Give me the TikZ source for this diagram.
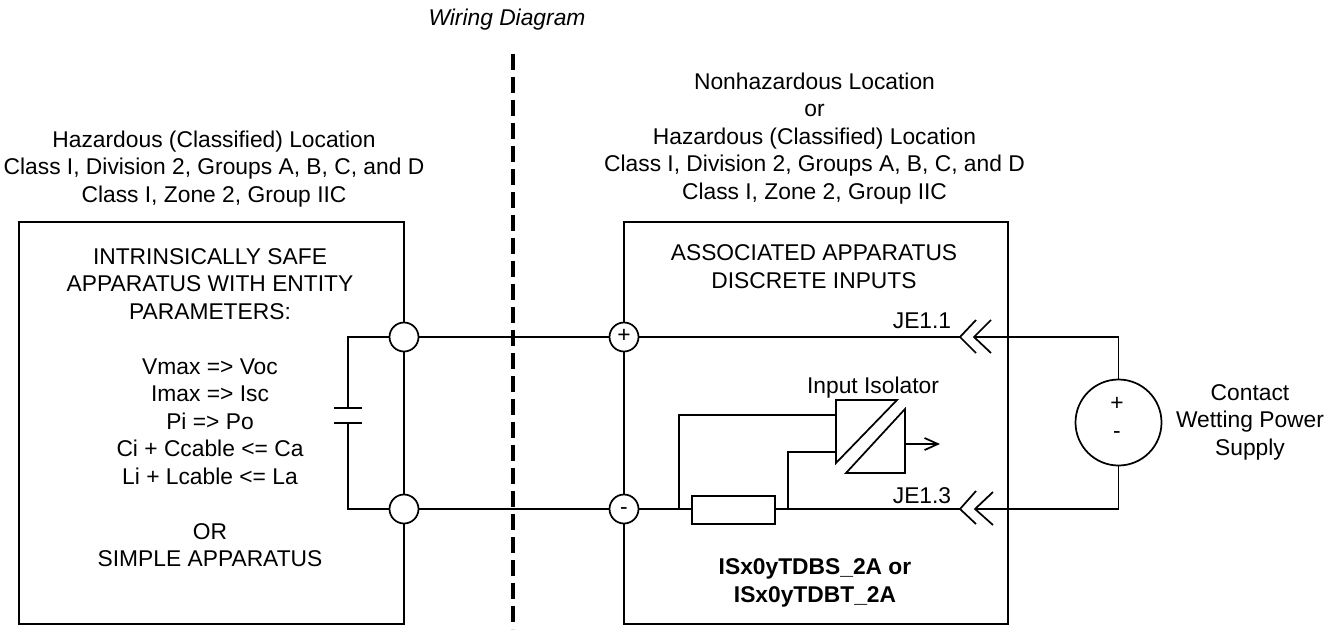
\documentclass[tikz,border=0pt]{standalone}
\usepackage{fontspec}
\setmainfont{Liberation Sans}
\usetikzlibrary{arrows.meta}
\newlength{\du}
\setlength{\du}{0.75pt}
\tikzset{
  wire/.style={line width=1.3pt,line join=miter},
  box/.style={draw,line width=1.3pt,rectangle,inner sep=0pt},
  term/.style={draw,fill=white,line width=1.3pt,circle,inner sep=0pt,minimum size=29\du},
  txt/.style={inner sep=0pt,anchor=base,align=center,font=\fontsize{17.1pt}{20.6pt}\selectfont},
}

\begin{document}
\begin{tikzpicture}
\pgftransformxscale{1.000000}
\pgftransformyscale{-1.000000}
\useasboundingbox (0\du,0\du) rectangle (1341\du,629\du);
% barrier
\draw[line width=2.4pt,dash pattern=on 16\du off 7\du] (513\du,54\du)--(513\du,629\du);
% boxes
\node[box,minimum width=385\du,minimum height=402\du] (hazbox) at (211.5\du,423\du){};
\node[box,minimum width=384\du,minimum height=402\du] (assocbox) at (816\du,423\du){};
% terminals
\node[term] (hazplus) at (404\du,337\du){};
\node[term] (hazminus) at (404\du,509\du){};
\node[term] (assocplus) at (624\du,337\du){};
\node[term] (assocminus) at (624\du,509\du){};
\node[txt] (plussign) at (624\du,342.5\du){+};
\node[txt] (minussign) at (624\du,514\du){-};
% capacitor
\coordinate (capnw) at (348\du,337\du);
\coordinate (capsw) at (348\du,509\du);
\coordinate (plateup) at (348\du,408\du);
\coordinate (platedn) at (348\du,423\du);
\draw[wire] (hazplus)--(capnw)--(plateup);
\draw[wire] (hazminus)--(capsw)--(platedn);
\draw[wire] (334\du,408\du)--(362\du,408\du);
\draw[wire] (334\du,423\du)--(362\du,423\du);
% field wiring
\draw[wire] (hazplus)--(assocplus);
\draw[wire] (hazminus)--(assocminus);
% connectors
\coordinate (jeonea) at (960\du,337\du);
\coordinate (jeoneb) at (974\du,337\du);
\coordinate (jethreea) at (960\du,509\du);
\coordinate (jethreeb) at (975\du,509\du);
\draw[wire] (assocplus)--(jeonea);
\draw[wire] (jeonea)++(16\du,-17\du)--(jeonea)--++(16\du,16\du);
\draw[wire] (jeoneb)++(17\du,-17\du)--(jeoneb)--++(17\du,16\du);
\draw[wire] (jethreea)++(16\du,-18\du)--(jethreea)--++(16\du,15\du);
\draw[wire] (jethreeb)++(18\du,-17\du)--(jethreeb)--++(18\du,16\du);
% sense resistor
\node[box,fill=white,minimum width=83\du,minimum height=28\du] (sense) at (733.5\du,510\du){};
\coordinate (tapa) at (679\du,509\du);
\coordinate (tapb) at (788\du,509\du);
\draw[wire] (assocminus)--(sense.west |- tapa);
\draw[wire] (sense.east |- tapb)--(jethreea);
% isolator
\draw[wire] (836\du,400\du)--(897\du,400\du)--(836\du,463\du)--cycle;
\draw[wire] (905\du,409\du)--(905\du,473\du)--(846\du,473\du)--cycle;
\coordinate (isoa) at (836\du,415\du);
\coordinate (isob) at (836\du,452\du);
\coordinate (isoout) at (905\du,444\du);
\coordinate (isoend) at (940\du,444\du);
\draw[wire] (tapa)--(tapa |- isoa)--(isoa);
\draw[wire] (tapb)--(tapb |- isob)--(isob);
\draw[wire,-{Straight Barb[length=10pt,width=9pt]}] (isoout)--(isoend);
% power supply
\node[draw,fill=white,line width=1.3pt,circle,inner sep=0pt,minimum size=86\du] (supply) at (1118.5\du,422.5\du){};
\coordinate (supnw) at (1118.5\du,337\du);
\coordinate (supsw) at (1118.5\du,509\du);
\draw[wire] (jeoneb)--(supnw)--(supply);
\draw[wire] (jethreeb)--(supsw)--(supply);
\node[txt] (supplus) at (1117\du,410.5\du){+};
\node[txt] (supminus) at (1117\du,438\du){-};
% text
\node[txt] (title) at (507\du,25.5\du){\itshape Wiring Diagram};
\node[txt] (hazloc) at (214\du,202\du){Hazardous (Classified) Location\\Class I, Division 2, Groups A, B, C, and D\\Class I, Zone 2, Group IIC};
\node[txt] (safeloc) at (814.5\du,199\du){Nonhazardous Location\\or\\Hazardous (Classified) Location\\Class I, Division 2, Groups A, B, C, and D\\Class I, Zone 2, Group IIC};
\node[txt] (hazlabel) at (210\du,566.5\du){INTRINSICALLY SAFE\\APPARATUS WITH ENTITY\\PARAMETERS:\\ \\Vmax => Voc\\Imax => Isc\\Pi => Po\\Ci + Ccable <= Ca\\Li + Lcable <= La\\ \\OR\\SIMPLE APPARATUS};
\node[txt] (assoclabel) at (814\du,288\du){ASSOCIATED APPARATUS\\DISCRETE INPUTS};
\node[txt] (jeone) at (922\du,328\du){JE1.1};
\node[txt] (jethree) at (922\du,503\du){JE1.3};
\node[txt] (isolabel) at (873\du,393\du){Input Isolator};
\node[txt] (suplabel) at (1250\du,455\du){Contact\\Wetting Power\\Supply};
\node[txt] (partno) at (815\du,602\du){\bfseries ISx0yTDBS\_2A or\\\bfseries ISx0yTDBT\_2A};
\end{tikzpicture}
\end{document}
